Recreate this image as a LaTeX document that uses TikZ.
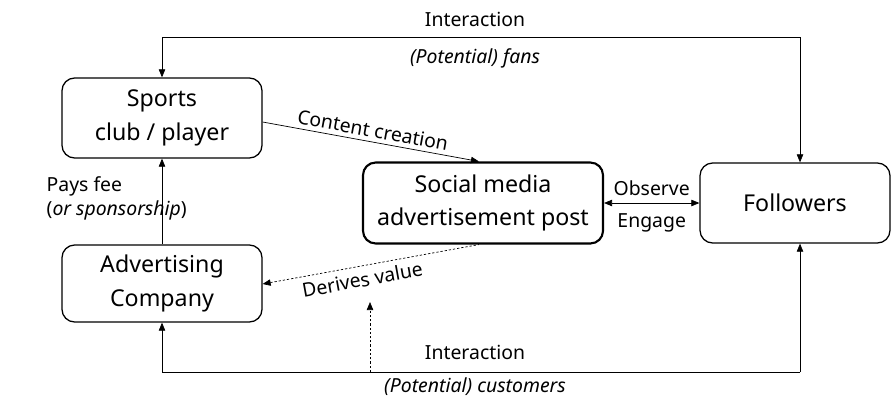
\documentclass[tikz,border=0pt]{standalone}
\usepackage{fontspec}
\setmainfont{Noto Sans}
\usetikzlibrary{arrows.meta,positioning,calc}
\tikzset{
  box/.style     = {draw, rounded corners=9pt, line width=0.9pt,
                    align=center, font=\fontsize{16.5}{24}\selectfont, inner sep=0pt},
  postbox/.style = {box, line width=1.5pt},
  lab/.style     = {font=\fontsize{13.8}{17}\selectfont, align=center, inner sep=1pt},
  arr/.style     = {-{Triangle[length=2mm,width=1.6mm]}, line width=0.5pt},
  dotarr/.style  = {arr, densely dashed, dash pattern=on 1.6pt off 1.4pt},
}
\begin{document}
\begin{tikzpicture}[x=0.025cm, y=-0.025cm]
\useasboundingbox (0,0) rectangle (892,402);
% boxes
\node[box, minimum width=200*0.025cm, minimum height=80*0.025cm] (sports) at (162,118) {Sports\\club / player};
\node[box, minimum width=200*0.025cm, minimum height=77*0.025cm] (adco) at (162,283.5) {Advertising\\Company};
\node[postbox, minimum width=240*0.025cm, minimum height=81*0.025cm] (post) at (483,203) {Social media\\advertisement post};
\node[box, minimum width=190*0.025cm, minimum height=80*0.025cm] (foll) at (795,203) {Followers};
% helper points
\coordinate (topl) at (162,37);
\coordinate (topr) at (800,37);
\coordinate (botl) at (162,372);
\coordinate (botr) at (800,372);
\coordinate (vdot) at (370,372);
\coordinate (vtip) at (370,302);
\coordinate (ccin) at ($(post.north west)+(117,0)$);
\coordinate (dvout) at ($(post.south west)+(117,0)$);
% top loop
\draw[line width=0.5pt] (topl) -- (topr);
\draw[arr] (topl) -- (sports.north);
\draw[arr] (topr) -- (foll.north -| topr);
\node[lab] (int1) at (475,19) {Interaction};
\node[lab] (fans) at (475,58) {\itshape (Potential) fans};
% bottom loop
\draw[line width=0.5pt] (botl) -- (botr);
\draw[arr] (botl) -- (adco.south);
\draw[arr] (botr) -- (foll.south -| botr);
\node[lab] (int2) at (475,352) {Interaction};
\node[lab] (cust) at (475,387) {\itshape (Potential) customers};
\draw[dotarr] (vdot) -- (vtip);
% middle arrows
\draw[arr] (sports.east |- 0,122) -- node[lab, sloped, above=2pt] (cc) {Content creation} (ccin);
\draw[dotarr, {Triangle[length=2mm,width=1.6mm]}-] (adco.east |- 0,284) -- node[lab, sloped, below=3pt, pos=0.45] (dv) {Derives value} (dvout);
\draw[arr, {Triangle[length=2mm,width=1.6mm]}-{Triangle[length=2mm,width=1.6mm]}] (post.east) -- node[lab, above=4pt] (obs) {Observe} node[lab, below=6pt] (eng) {Engage} (foll.west);
\draw[arr] (adco.north) -- (sports.south);
\node[lab, align=left, anchor=west] (fee) at (45,198) {Pays fee\\(\textit{or sponsorship})};
\end{tikzpicture}
\end{document}
